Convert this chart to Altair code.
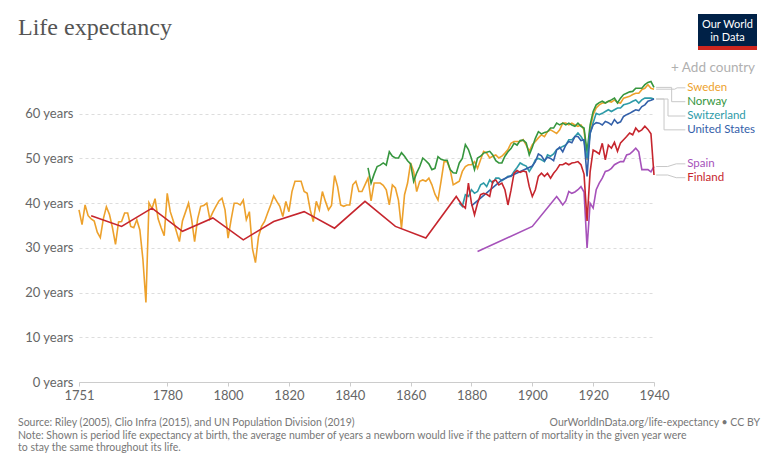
import altair as alt
import pandas as pd

# ---------------- data ----------------
countries = ["Sweden", "Norway", "Switzerland", "United States", "Spain", "Finland"]
colors = ["#EDA12C", "#36963E", "#2E9BA8", "#3360A9", "#A652BA", "#C6262E"]

sweden_start = 1751
sweden_le = [
    38.5, 35.2, 39.6, 37.2, 36.5, 36.0, 33.5, 32.3, 36.5, 39.2,
    37.5, 34.5, 30.8, 35.8, 35.9, 37.8, 37.8, 34.8, 34.5, 36.3,
    34.0, 27.5, 17.8, 40.1, 38.8, 41.0, 36.5, 34.5, 32.7, 42.2,
    38.1, 36.0, 33.7, 31.4, 36.0, 38.0, 40.0, 36.5, 31.4, 36.5,
    39.3, 39.5, 40.0, 36.5, 38.0, 39.3, 40.5, 41.1, 38.5, 32.2,
    36.3, 40.0, 40.0, 39.6, 40.7, 36.3, 38.1, 29.9, 26.7, 32.5,
    34.8, 35.9, 37.8, 39.6, 41.6, 40.4, 39.3, 37.0, 40.4, 38.1,
    42.6, 44.9, 44.9, 44.9, 42.6, 42.2, 38.5, 35.9, 40.4, 38.5,
    42.6, 40.4, 38.5, 39.5, 46.2, 43.7, 39.6, 39.3, 39.6, 39.6,
    44.1, 44.9, 42.6, 42.6, 44.1, 45.6, 40.5, 44.5, 44.5, 44.5,
    44.0, 43.0, 39.6, 44.1, 43.4, 40.7, 34.4, 41.9, 44.5, 49.0,
    47.1, 42.6, 44.9, 45.2, 44.9, 45.6, 44.1, 42.0, 40.7, 44.9,
    49.3, 49.3, 47.5, 44.1, 44.5, 44.9, 47.1, 48.2, 48.6, 48.6,
    49.3, 47.8, 49.7, 51.6, 51.2, 50.1, 50.5, 50.8, 50.1, 50.5,
    51.2, 52.0, 53.4, 53.8, 53.8, 53.8, 54.2, 53.0, 51.6, 53.1,
    53.8, 54.6, 55.3, 54.9, 56.0, 56.4, 56.0, 55.6, 56.4, 57.9,
    57.9, 57.5, 57.9, 57.5, 57.2, 57.5, 56.4, 49.7, 56.5, 59.8,
    61.3, 62.0, 62.4, 62.4, 62.8, 62.6, 63.1, 62.5, 62.4, 63.5,
    63.7, 63.9, 64.3, 64.6, 64.6, 65.4, 65.7, 66.5, 65.7, 65.5,
]

norway_start = 1846
norway_le = [
    47.9, 44.5, 46.5, 48.2, 48.5,
    49.0, 48.5, 51.5, 50.5, 50.1, 50.1, 51.3, 50.5, 49.5, 48.8,
    44.9, 46.8, 48.2, 50.1, 49.5, 48.8, 47.5, 47.8, 50.4, 49.8,
    49.6, 49.6, 47.5, 46.8, 46.7, 49.0, 50.0, 53.1, 52.0, 50.0,
    47.5, 50.1, 50.5, 51.2, 51.4, 51.6, 50.8, 49.5, 49.0, 49.0,
    50.5, 51.5, 52.2, 53.4, 53.0, 54.0, 54.1, 53.5, 50.8, 52.5,
    54.5, 56.0, 55.5, 55.8, 56.0, 56.8, 56.8, 57.9, 57.5, 57.9,
    57.5, 57.9, 57.5, 57.2, 57.9, 57.2, 56.8, 51.5, 57.5, 60.5,
    62.0, 62.5, 62.8, 62.4, 62.8, 63.1, 63.5, 62.4, 63.5, 64.3,
    64.6, 64.9, 65.0, 65.7, 65.7, 65.7, 66.5, 67.0, 67.2, 65.9,
]

switzerland_start = 1876
switzerland_le = [
    40.0, 39.3, 41.9, 41.5, 43.0,
    42.2, 42.6, 44.1, 44.5, 43.7, 45.2, 44.5, 45.6, 45.6, 45.0,
    45.5, 46.0, 46.0, 47.1, 48.0, 49.0, 48.6, 48.3, 47.1, 48.2,
    49.7, 50.0, 49.7, 49.3, 50.8, 50.5, 51.0, 52.0, 52.3, 52.7,
    53.0, 54.2, 54.2, 54.9, 55.7, 54.9, 53.8, 50.0, 55.5, 58.0,
    60.1, 59.8, 60.1, 60.5, 60.9, 60.5, 60.9, 61.3, 61.3, 62.0,
    62.2, 62.4, 62.8, 63.1, 62.4, 63.1, 63.5, 63.5, 63.5, 63.3,
]

us_years = [1880, 1890] + list(range(1900, 1941))
us_le = [
    39.4, 45.2,
    48.3, 49.3, 51.0, 50.6, 49.5, 50.3, 50.0, 49.5, 51.9, 52.5, 51.5,
    53.0, 53.8, 53.5, 54.9, 54.9, 54.0, 54.2, 46.0, 55.7, 57.5,
    58.0, 57.9, 57.5, 58.3, 58.0, 57.5, 58.7, 57.9, 58.2, 59.4,
    59.8, 60.1, 60.5, 60.9, 60.7, 61.6, 62.0, 62.8, 63.0, 63.3,
]

spain_years = [1882, 1900] + list(range(1908, 1941))
spain_le = [
    29.2, 34.8,
    41.5, 40.6, 39.6, 40.5, 42.6, 42.2, 42.5, 43.0, 43.7, 42.5,
    30.0,
    40.0, 38.9, 43.0, 44.5, 45.6, 47.1, 47.3, 47.8, 48.6, 49.0, 49.3,
    49.3, 50.8, 51.0, 51.6, 52.3, 51.5, 47.5, 47.5, 47.5, 47.0, 48.2,
]

finland_years = [1755, 1765, 1775, 1785, 1795, 1805, 1815, 1825, 1835,
                 1845, 1855, 1865, 1875] + list(range(1876, 1941))
finland_le = [
    37.2, 34.8, 38.9, 33.7, 36.7, 31.8, 35.9, 38.1, 34.4, 40.4, 34.8, 32.2, 41.5,
    40.5, 39.5, 38.9, 44.5, 40.0,
    37.4, 40.0, 41.9, 42.2, 42.0, 41.5, 44.9, 45.2, 44.1, 44.5,
    43.0, 39.6, 42.9, 46.7, 47.3, 46.9, 47.2, 47.0, 43.7, 41.5,
    43.0, 46.0, 46.7, 46.0, 46.7, 45.6, 46.7, 47.5, 48.6, 48.6,
    49.0, 48.6, 49.0, 49.1, 49.3, 48.6, 46.5, 36.0, 47.0, 51.9,
    51.5, 51.0, 53.4, 49.7, 53.0, 52.3, 53.6, 51.6, 53.5, 54.2,
    54.9, 55.7, 55.3, 56.8, 56.0, 56.4, 57.2, 56.5, 55.5, 46.3,
]

x_ticks = [1751, 1780, 1800, 1820, 1840, 1860, 1880, 1900, 1920, 1940]
y_ticks = [0, 10, 20, 30, 40, 50, 60]

title_text = "Life expectancy"
source_text = "Source: Riley (2005), Clio Infra (2015), and UN Population Division (2019)"
url_text = "OurWorldInData.org/life-expectancy \u2022 CC BY"
note1 = ("Note: Shown is period life expectancy at birth, the average number of years a newborn "
         "would live if the pattern of mortality in the given year were")
note2 = "to stay the same throughout its life."

# ---------------- build tables ----------------
series = {
    "Sweden": (list(range(sweden_start, sweden_start + len(sweden_le))), sweden_le),
    "Norway": (list(range(norway_start, norway_start + len(norway_le))), norway_le),
    "Switzerland": (list(range(switzerland_start, switzerland_start + len(switzerland_le))), switzerland_le),
    "United States": (us_years, us_le),
    "Spain": (spain_years, spain_le),
    "Finland": (finland_years, finland_le),
}
rows = []
for c, (yrs, vals) in series.items():
    for yv, v in zip(yrs, vals):
        rows.append({"country": c, "year": yv, "value": v})
df = pd.DataFrame(rows)

# label placement (layout, in axis units)
label_y = {"Sweden": 65.8, "Norway": 62.7, "Switzerland": 59.5,
           "United States": 56.4, "Spain": 48.8, "Finland": 45.7}
bend = {"Sweden": (1946.8, 1947.6), "Norway": (1945.8, 1945.8),
        "Switzerland": (1944.6, 1944.6), "United States": (1943.3, 1943.3),
        "Spain": (1944.5, 1947.3), "Finland": (1944.5, 1947.3)}
conn_rows, lab_rows = [], []
for c in countries:
    end = series[c][1][-1]
    b1, b2 = bend[c]
    pts = [(1940.7, end), (b1, end), (b2, label_y[c]), (1950.3, label_y[c])]
    for i, (px, py) in enumerate(pts):
        conn_rows.append({"country": c, "o": i, "year": px, "value": py})
    lab_rows.append({"country": c, "year": 1950.9, "value": label_y[c]})
conn_df = pd.DataFrame(conn_rows)
lab_df = pd.DataFrame(lab_rows)

W, H = 575, 304
xscale = alt.Scale(domain=[1751, 1940], nice=False, zero=False)
yscale = alt.Scale(domain=[0, 68], nice=False, zero=True)
cscale = alt.Scale(domain=countries, range=colors)

lines = alt.Chart(df).mark_line(strokeWidth=1.6, clip=False).encode(
    x=alt.X("year:Q", scale=xscale, title=None,
            axis=alt.Axis(values=x_ticks, format="d", grid=False, domainColor="#cccccc",
                          tickColor="#cccccc", tickSize=4, labelPadding=3,
                          labelFont="Lato", labelFontSize=13, labelColor="#666666",
                          labelFlush=False, labelOverlap=False)),
    y=alt.Y("value:Q", scale=yscale, title=None,
            axis=alt.Axis(values=y_ticks, labelExpr="datum.value + ' years'", grid=True,
                          gridDash=[3, 3], gridColor="#dddddd", domain=False, ticks=False,
                          labelPadding=6, labelFont="Lato", labelFontSize=13,
                          labelColor="#666666")),
    color=alt.Color("country:N", scale=cscale, legend=None),
    detail="country:N",
)

connectors = alt.Chart(conn_df).mark_line(color="#c8c8c8", strokeWidth=1, clip=False).encode(
    x=alt.X("year:Q", scale=xscale),
    y=alt.Y("value:Q", scale=yscale),
    detail="country:N",
    order="o:Q",
)

labels = alt.Chart(lab_df).mark_text(align="left", baseline="middle", font="Lato",
                                     fontSize=11.5, clip=False).encode(
    x=alt.X("year:Q", scale=xscale),
    y=alt.Y("value:Q", scale=yscale),
    text="country:N",
    color=alt.Color("country:N", scale=cscale, legend=None),
)

one = pd.DataFrame({"k": [0]})

def txt(s, x, y, size, color, font="Lato", align="left", weight="normal"):
    return alt.Chart(pd.DataFrame({"t": [s]})).mark_text(
        align=align, baseline="middle", font=font, fontSize=size, color=color,
        fontWeight=weight).encode(x=alt.value(x), y=alt.value(y), text="t:N")

title = txt(title_text, -61, -50, 24, "#555555", font="Liberation Serif")
logo_bg = alt.Chart(one).mark_rect(color="#002147").encode(
    x=alt.value(619), x2=alt.value(678), y=alt.value(-64), y2=alt.value(-32))
logo_red = alt.Chart(one).mark_rect(color="#CE261E").encode(
    x=alt.value(619), x2=alt.value(678), y=alt.value(-32), y2=alt.value(-28))
logo_t1 = txt("Our World", 648.5, -53, 11, "#ffffff", align="center")
logo_t2 = txt("in Data", 648.5, -40, 11, "#ffffff", align="center")
add_c = txt("+ Add country", 592, -10, 13.5, "#b0b0b0")
src = txt(source_text, -61, 345, 10.5, "#777777")
url = txt(url_text, 681, 345, 10.5, "#777777", align="right")
n1 = txt(note1, -61, 358, 10.5, "#777777")
n2 = txt(note2, -61, 370, 10.5, "#777777")

chart = alt.layer(
    lines, connectors, labels, title, logo_bg, logo_red, logo_t1, logo_t2,
    add_c, src, url, n1, n2
).properties(
    width=W, height=H,
    autosize=alt.AutoSizeParams(type="none"),
    padding={"left": 71, "top": 70, "right": 114, "bottom": 75},
    background="white",
).configure_view(stroke=None)

chart.save("out.html", embed_options={"renderer": "svg", "actions": False})
